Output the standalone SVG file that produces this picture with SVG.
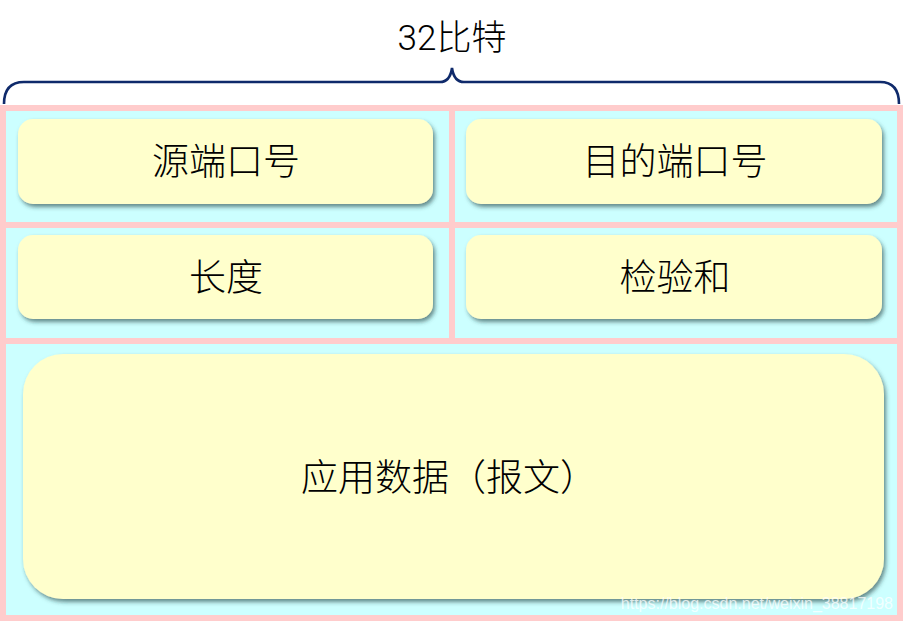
<svg xmlns="http://www.w3.org/2000/svg" width="903" height="621" viewBox="0 0 903 621">
<defs>
<filter id="sh" x="-10%" y="-20%" width="120%" height="150%">
<feDropShadow dx="2" dy="3" stdDeviation="2.2" flood-color="#1a3a3a" flood-opacity="0.6"/>
</filter>
<style>
.cell{fill:#ccffff}
.box{fill:#ffffcc;filter:url(#sh)}
.lbl{font-family:"Noto Sans CJK SC","Noto Sans",sans-serif;font-size:37px;font-weight:300;fill:#000;text-anchor:middle}
</style>
</defs>
<rect width="903" height="621" fill="#ffffff"/>
<g id="frame">
<rect x="0" y="105" width="903" height="516" fill="#ffcccc"/>
<rect class="cell" x="6" y="111" width="443" height="111"/>
<rect class="cell" x="455" y="111" width="442" height="111"/>
<rect class="cell" x="6" y="228" width="443" height="110"/>
<rect class="cell" x="455" y="228" width="442" height="110"/>
<rect class="cell" x="6" y="344" width="891" height="271"/>
</g>
<g id="brace">
<path d="M4,104 Q4,82 24,82 L440,82 Q450,82 452,68 Q454,82 464,82 L880,82 Q899,82 899,104" fill="none" stroke="#0f2a6b" stroke-width="2.6"/>
<text x="452" y="50" font-family="Roboto,'Noto Sans CJK SC',sans-serif" font-size="35" font-weight="300" text-anchor="middle" fill="#000">32比特</text>
</g>
<g id="n1"><rect class="box" x="18" y="119" width="415" height="85" rx="15"/><text class="lbl" x="226" y="175">源端口号</text></g>
<g id="n2"><rect class="box" x="466" y="119" width="416" height="85" rx="15"/><text class="lbl" x="675" y="175">目的端口号</text></g>
<g id="n3"><rect class="box" x="18" y="235" width="415" height="84" rx="15"/><text class="lbl" x="226" y="291">长度</text></g>
<g id="n4"><rect class="box" x="466" y="235" width="416" height="84" rx="15"/><text class="lbl" x="675" y="291">检验和</text></g>
<g id="n5"><rect class="box" x="23" y="354" width="861" height="245" rx="40"/><text class="lbl" x="449" y="491" font-size="36">应用数据（报文）</text></g>
<g id="connectors"/>
<text x="893" y="609" font-family="'Liberation Sans',Arial,sans-serif" font-size="16" text-anchor="end" fill="#ffffff" fill-opacity="0.75">https://blog.csdn.net/weixin_38817198</text>
</svg>
